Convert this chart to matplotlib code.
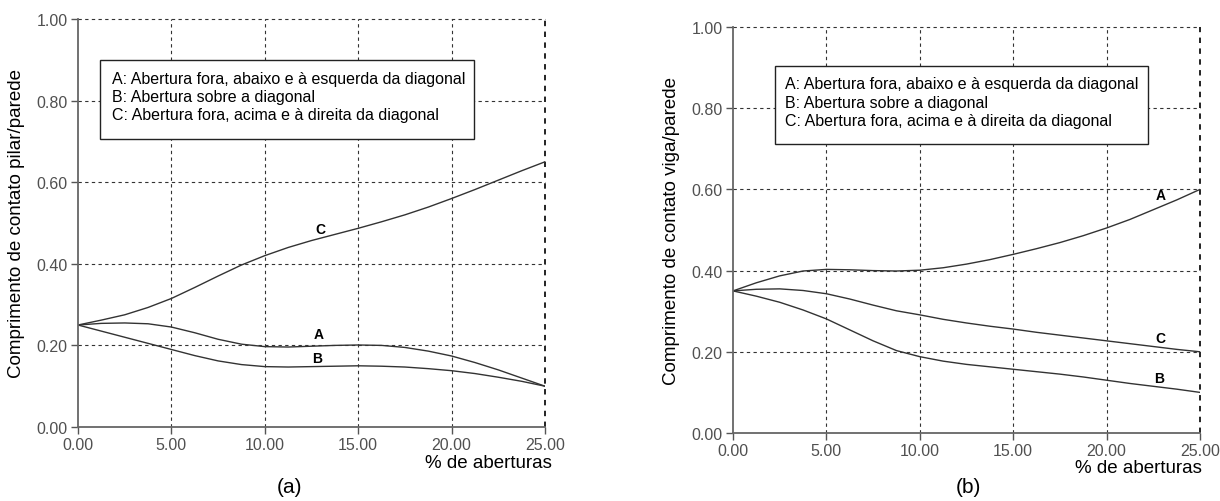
import matplotlib
matplotlib.use("Agg")
import matplotlib.pyplot as plt
from matplotlib.patches import Rectangle

# ---------------- data ----------------
x_a = [0, 1.25, 2.5, 3.75, 5, 6.25, 7.5, 8.75, 10, 11.25, 12.5, 13.75, 15, 16.25, 17.5, 18.75, 20, 21.25, 22.5, 23.75, 25]
a_A = [0.25, 0.254, 0.255, 0.253, 0.245, 0.231, 0.215, 0.203, 0.197, 0.196, 0.198, 0.200, 0.201, 0.200, 0.195, 0.186, 0.174, 0.158, 0.140, 0.120, 0.10]
a_B = [0.25, 0.235, 0.22, 0.205, 0.19, 0.175, 0.162, 0.153, 0.148, 0.147, 0.148, 0.149, 0.150, 0.149, 0.147, 0.143, 0.138, 0.131, 0.122, 0.112, 0.10]
a_C = [0.25, 0.262, 0.275, 0.293, 0.315, 0.342, 0.370, 0.397, 0.420, 0.440, 0.457, 0.472, 0.487, 0.503, 0.520, 0.539, 0.560, 0.582, 0.605, 0.628, 0.65]

x_b = [0, 1.25, 2.5, 3.75, 5, 6.25, 7.5, 8.75, 10, 11.25, 12.5, 13.75, 15, 16.25, 17.5, 18.75, 20, 21.25, 22.5, 23.75, 25]
b_A = [0.35, 0.370, 0.387, 0.399, 0.403, 0.402, 0.400, 0.399, 0.401, 0.407, 0.416, 0.427, 0.440, 0.454, 0.469, 0.486, 0.505, 0.526, 0.550, 0.574, 0.60]
b_B = [0.35, 0.337, 0.322, 0.303, 0.281, 0.254, 0.227, 0.203, 0.188, 0.177, 0.169, 0.163, 0.157, 0.151, 0.145, 0.138, 0.130, 0.122, 0.115, 0.108, 0.10]
b_C = [0.35, 0.354, 0.355, 0.351, 0.343, 0.330, 0.315, 0.301, 0.291, 0.280, 0.271, 0.263, 0.256, 0.248, 0.241, 0.234, 0.227, 0.220, 0.213, 0.206, 0.20]

xticks = [0, 5, 10, 15, 20, 25]
yticks = [0, 0.2, 0.4, 0.6, 0.8, 1.0]
xtick_labels = ["0.00", "5.00", "10.00", "15.00", "20.00", "25.00"]
ytick_labels = ["0.00", "0.20", "0.40", "0.60", "0.80", "1.00"]

legend_lines = ["A: Abertura fora, abaixo e à esquerda da diagonal",
                "B: Abertura sobre a diagonal",
                "C: Abertura fora, acima e à direita da diagonal"]
xlabel = "% de aberturas"
ylabel_a = "Comprimento de contato pilar/parede"
ylabel_b = "Comprimento de contato viga/parede"

FONT = ["Liberation Sans", "DejaVu Sans"]
plt.rcParams['font.family'] = FONT

fig = plt.figure(figsize=(12.2, 5.02), dpi=100)

W, H = 1220.0, 502.0
ax_a = fig.add_axes([78 / W, 1 - 428 / H, 467 / W, 408 / H])
ax_b = fig.add_axes([733 / W, 1 - 434 / H, 467 / W, 406 / H])


def style(ax, ylab, box, text_x, text_ys):
    ax.set_xlim(0, 25)
    ax.set_ylim(0, 1.0)
    ax.set_xticks(xticks)
    ax.set_xticklabels(xtick_labels)
    ax.set_yticks(yticks)
    ax.set_yticklabels(ytick_labels)
    ax.tick_params(axis='both', direction='out', length=5, width=1, color='#555555',
                   labelsize=11.5, labelcolor='#505050', pad=2.5)
    # grid
    for xv in xticks[1:]:
        lw = 1.3 if xv == 25 else 0.8
        col = '#111111' if xv == 25 else '#333333'
        ax.plot([xv, xv], [0, 1.0], ls=(0, (3, 3)), lw=lw, color=col, zorder=1, clip_on=False)
    for yv in yticks[1:]:
        ax.plot([0, 25], [yv, yv], ls=(0, (3, 3)), lw=0.8, color='#333333', zorder=1, clip_on=False)
    ax.spines['top'].set_visible(False)
    ax.spines['right'].set_visible(False)
    ax.spines['left'].set_color('#666666')
    ax.spines['bottom'].set_color('#666666')
    ax.spines['left'].set_linewidth(1.3)
    ax.spines['bottom'].set_linewidth(1.3)
    # legend box
    x0, x1, y0, y1 = box
    ax.add_patch(Rectangle((x0, y0), x1 - x0, y1 - y0, facecolor='white',
                           edgecolor='#222222', lw=1.0, zorder=3))
    for t, yv in zip(legend_lines, text_ys):
        ax.text(text_x, yv, t, fontsize=11.5, va='center', ha='left', color='black', zorder=4)
    ax.set_ylabel(ylab, fontsize=13.5, color='black')


style(ax_a, ylabel_a, (1.18, 21.2, 0.707, 0.900), 1.8, [0.854, 0.809, 0.765])
style(ax_b, ylabel_b, (2.25, 22.2, 0.713, 0.905), 2.8, [0.860, 0.814, 0.769])

lc = '#333333'
for y in (a_A, a_B, a_C):
    ax_a.plot(x_a, y, color=lc, lw=1.0, zorder=2)
for y in (b_A, b_B, b_C):
    ax_b.plot(x_b, y, color=lc, lw=1.0, zorder=2)

lbl = dict(fontsize=10, fontweight='bold', ha='center', va='center', color='black')
ax_a.text(13.0, 0.486, "C", **lbl)
ax_a.text(12.9, 0.227, "A", **lbl)
ax_a.text(12.8, 0.168, "B", **lbl)
ax_b.text(22.9, 0.585, "A", **lbl)
ax_b.text(22.9, 0.234, "C", **lbl)
ax_b.text(22.8, 0.136, "B", **lbl)

# y-label: coordinate is the right edge of the rotated text
ax_a.yaxis.set_label_coords(-(78 - 25) / 467, 0.5)
ax_b.yaxis.set_label_coords(-(733 - 680) / 467, 0.5)

# x-labels and panel captions
fig.text(552 / W, 1 - 464 / H, xlabel, fontsize=13.5, ha='right', va='center')
fig.text(1202 / W, 1 - 469 / H, xlabel, fontsize=13.5, ha='right', va='center')
fig.text(290 / W, 1 - 488 / H, "(a)", fontsize=15, ha='center', va='center')
fig.text(968 / W, 1 - 488 / H, "(b)", fontsize=15, ha='center', va='center')

fig.savefig("out.png", dpi=100, facecolor='white')
